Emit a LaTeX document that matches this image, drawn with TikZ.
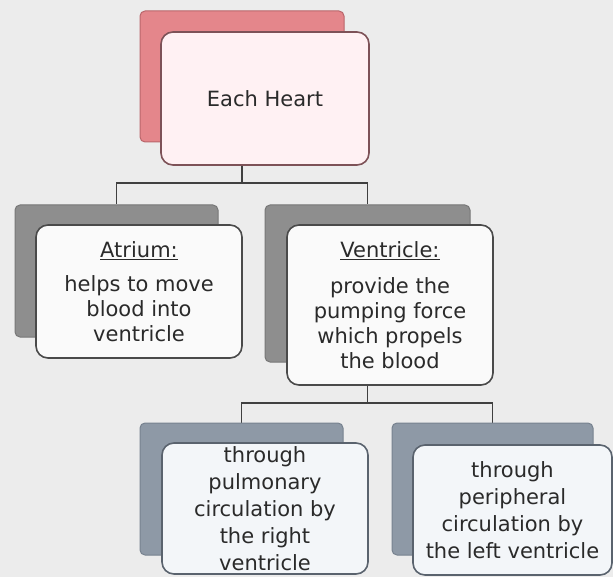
\documentclass[tikz,border=0pt]{standalone}
\usepackage{fontspec}
\setmainfont{DejaVu Sans}
\usetikzlibrary{backgrounds}
\definecolor{bgc}{HTML}{ECECEC}
\definecolor{txt}{HTML}{2A2A2A}
\definecolor{conn}{HTML}{404040}
\definecolor{redback}{HTML}{E4868B}
\definecolor{redbackd}{HTML}{B9666B}
\definecolor{redfront}{HTML}{FFF1F3}
\definecolor{redline}{HTML}{7D5257}
\definecolor{grayback}{HTML}{8E8E8E}
\definecolor{graybackd}{HTML}{777777}
\definecolor{grayfront}{HTML}{FAFAFA}
\definecolor{grayline}{HTML}{4A4A4A}
\definecolor{blueback}{HTML}{8E99A6}
\definecolor{bluebackd}{HTML}{77828F}
\definecolor{bluefront}{HTML}{F3F6F9}
\definecolor{blueline}{HTML}{5A636E}
\tikzset{
  backbox/.style={rectangle, rounded corners=5pt, inner sep=0pt, line width=1pt},
  frontbox/.style={rectangle, rounded corners=12pt, inner sep=0pt, line width=1.6pt,
    align=center, text=txt},
  redb/.style={backbox, fill=redback, draw=redbackd},
  grayb/.style={backbox, fill=grayback, draw=graybackd},
  blueb/.style={backbox, fill=blueback, draw=bluebackd},
  redf/.style={frontbox, fill=redfront, draw=redline},
  grayf/.style={frontbox, fill=grayfront, draw=grayline},
  bluef/.style={frontbox, fill=bluefront, draw=blueline},
  connector/.style={draw=conn, line width=1.5pt},
  txta/.style={font={\fontsize{21}{25}\selectfont}},
  txtb/.style={font={\fontsize{21}{27}\selectfont}}
}
\begin{document}
\begin{tikzpicture}[x=1pt,y=-1pt]
\useasboundingbox (0,0) rectangle (613,577);
% back boxes
\node[redb, minimum width=204pt, minimum height=131pt] (hb) at (242,76.5) {};
\node[grayb, minimum width=203pt, minimum height=132pt] (ab) at (116.5,271) {};
\node[grayb, minimum width=205pt, minimum height=157pt] (vb) at (367.5,283.5) {};
\node[blueb, minimum width=203pt, minimum height=132pt] (lb) at (241.5,489) {};
\node[blueb, minimum width=201pt, minimum height=132pt] (rb) at (492.5,489) {};
% front boxes
\node[redf, txta, minimum width=208pt, minimum height=133pt] (hf) at (265,98.5) {Each Heart};
\node[grayf, txta, minimum width=206pt, minimum height=133pt] (af) at (139,291.5)
  {\underline{Atrium:}\\[9pt]helps to move\\blood into\\ventricle};
\node[grayf, txta, minimum width=206pt, minimum height=160pt] (vf) at (390,305)
  {\underline{Ventricle:}\\[11pt]provide the\\pumping force\\which propels\\the blood};
\node[bluef, txtb, minimum width=206pt, minimum height=131pt] (lf) at (265,508.5)
  {through\\pulmonary\\circulation by\\the right\\ventricle};
\node[bluef, txtb, minimum width=199pt, minimum height=130pt] (rf) at (512.5,510)
  {through\\peripheral\\circulation by\\the left ventricle};
\begin{scope}[on background layer]
  \fill[bgc] (0,0) rectangle (613,577);
  \coordinate (j1) at (242,183);
  \coordinate (j2) at (367.5,403);
  \draw[connector] (hb.south) -- (j1);
  \draw[connector] (ab.north) |- (j1) -| (vb.north);
  \draw[connector] (vb.south) -- (j2);
  \draw[connector] (lb.north) |- (j2) -| (rb.north);
\end{scope}
\end{tikzpicture}
\end{document}
